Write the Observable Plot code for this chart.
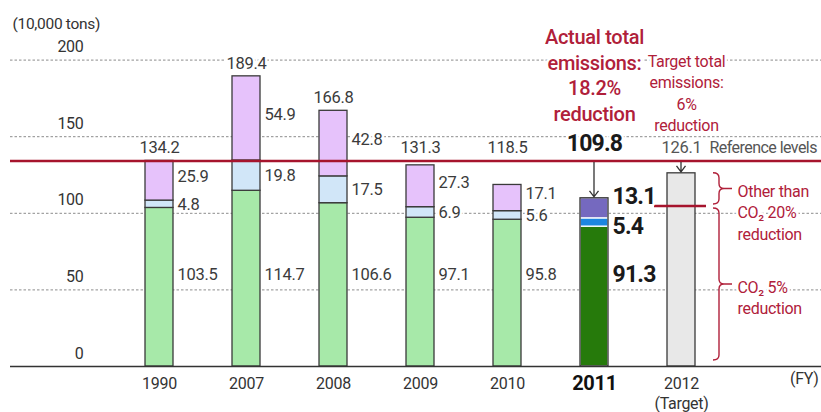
<!DOCTYPE html>
<html><head><meta charset="utf-8">
<script src="https://cdn.jsdelivr.net/npm/d3@7"></script>
<script src="https://cdn.jsdelivr.net/npm/@observablehq/plot@0.6"></script>
<style>
html,body{margin:0;padding:0;background:#fff}
#chart svg{display:block}
#chart svg text{letter-spacing:-0.3px}
#chart svg .tight text{letter-spacing:-0.8px}
#chart svg .mid text{letter-spacing:-0.55px}
</style></head><body><div id="chart"></div>
<script>
// ---- data ----
const years = ["1990","2007","2008","2009","2010","2011","2012"];
const actualYears = ["1990","2007","2008","2009","2010","2011"];
const seriesNames = ["CO₂", "Other gases (A)", "Other gases (B)"];
const co2 = [103.5, 114.7, 106.6, 97.1, 95.8, 91.3];
const otherA = [4.8, 19.8, 17.5, 6.9, 5.6, 5.4];
const otherB = [25.9, 54.9, 42.8, 27.3, 17.1, 13.1];
const totals = [134.2, 189.4, 166.8, 131.3, 118.5, 109.8];
const target2012 = 126.1;
const referenceLevel = 134.2;
const targetSplit = 104.4;
const yTicks = [0, 50, 100, 150, 200];

const lightColors = ["#a7e9a9", "#d1e6f8", "#e6c2fb"];
const darkColors = ["#267a0b", "#1d86df", "#7569bf"];
const RED = "#b0203a";
const REDLINE = "#a6142d";
const FONT = 'Roboto,"Liberation Sans","Noto Sans",sans-serif';

const rows = actualYears.flatMap((year, i) => [
  {year, series: 0, value: co2[i]},
  {year, series: 1, value: otherA[i]},
  {year, series: 2, value: otherB[i]}
]);
const labelRows = actualYears.map((year, i) => ({
  year, i,
  co2: co2[i], a: otherA[i], b: otherB[i], total: totals[i],
  aMid: co2[i] + otherA[i] / 2,
  bMid: co2[i] + otherA[i] + otherB[i] / 2
}));
const normal = labelRows.filter(d => d.year !== "2011");
const hi = labelRows.filter(d => d.year === "2011");
const fmt = v => v.toFixed(1);

function annotations(...args) {
  const s = args.find(a => a && typeof a.x === "function" && typeof a.y === "function");
  const g = d3.create("svg:g");
  if (!s) return g.node();
  const X = s.x, Y = s.y;
  let bw = typeof X.bandwidth === "function" ? X.bandwidth() : X.bandwidth;
  if (!(bw > 0)) bw = 0;
  const cx = k => X(k) + bw / 2;
  const arrow = (k, v) => {
    const x0 = cx(k), y0 = Y(referenceLevel) + 1.5, y1 = Y(v) - 1;
    g.append("path").attr("d", `M${x0},${y0}L${x0},${y1}M${x0-4.5},${y1-6}L${x0},${y1}L${x0+4.5},${y1-6}`)
      .attr("fill", "none").attr("stroke", "#333").attr("stroke-width", 1.3);
  };
  arrow("2011", totals[5]);
  arrow("2012", target2012);
  const c12 = cx("2012");
  g.append("line").attr("x1", c12 - 27).attr("x2", c12 + 25)
    .attr("y1", Y(targetSplit)).attr("y2", Y(targetSplit))
    .attr("stroke", REDLINE).attr("stroke-width", 2.5);
  const bx = c12 + 38;
  const brace = (T, B) => {
    const M = (T + B) / 2, r = 5;
    return `M${bx-6},${T}Q${bx},${T} ${bx},${T+r}L${bx},${M-r}Q${bx},${M} ${bx+r},${M}L${bx+13},${M}` +
           `M${bx+r},${M}Q${bx},${M} ${bx},${M+r}L${bx},${B-r}Q${bx},${B} ${bx-6},${B}`;
  };
  g.append("path").attr("d", brace(Y(target2012), Y(targetSplit) - 2))
    .attr("fill", "none").attr("stroke", RED).attr("stroke-width", 1.4);
  g.append("path").attr("d", brace(Y(targetSplit) + 2, Y(0) - 6))
    .attr("fill", "none").attr("stroke", RED).attr("stroke-width", 1.4);
  return g.node();
}

const halo = {stroke: "white", strokeWidth: 5};
const chart = Plot.plot({
  width: 821,
  height: 412,
  marginLeft: 10,
  marginRight: 0,
  marginTop: 59.6,
  marginBottom: 46,
  style: {fontFamily: FONT, fontSize: "15px", background: "white", overflow: "visible"},
  x: {type: "band", domain: years, range: [113.25, 725.75], paddingInner: 0.68, paddingOuter: 0.34, axis: null},
  y: {domain: [0, 200], axis: null},
  marks: [
    Plot.ruleY(yTicks.slice(1), {stroke: "#8c8c8c", strokeDasharray: "2.5,2", strokeWidth: 1}),
    Plot.barY(rows, {
      x: "year", y: "value",
      fill: d => (d.year === "2011" ? darkColors : lightColors)[d.series],
      stroke: d => d.year === "2011" ? "#ffffff" : "#3a3a3a",
      strokeWidth: 1.3
    }),
    Plot.barY([totals[5]], {x: () => "2011", y: d => d, fill: "none", stroke: "#333", strokeWidth: 1.3}),
    Plot.barY([target2012], {x: () => "2012", y: d => d, fill: "#e8e8e8", stroke: "#3a3a3a", strokeWidth: 1.3}),
    Plot.ruleY([0], {stroke: "#333", strokeWidth: 1.6}),
    Plot.ruleY([referenceLevel], {stroke: REDLINE, strokeWidth: 2.5}),
    annotations,
    Plot.text(yTicks, {y: d => d, frameAnchor: "left", dx: 73, dy: -13, textAnchor: "end", fill: "#333", fontSize: 16}),
    Plot.text(["(10,000 tons)"], {frameAnchor: "top-left", dx: 2, dy: -42, textAnchor: "start", fill: "#333", fontSize: 15.5}),
    Plot.text(normal, {x: "year", y: () => 60, text: d => fmt(d.co2), dx: 18, textAnchor: "start", fill: "#3b3b3b", fontSize: 16.5, ...halo}),
    Plot.text(normal, {x: "year", y: "aMid", text: d => fmt(d.a), dx: 18, textAnchor: "start", fill: "#3b3b3b", fontSize: 16.5, ...halo}),
    Plot.text(normal, {x: "year", y: "bMid", text: d => fmt(d.b), dx: 18, dy: -4, textAnchor: "start", fill: "#3b3b3b", fontSize: 16.5, ...halo}),
    Plot.text(normal, {x: "year", y: d => Math.max(d.total, referenceLevel), text: d => fmt(d.total), dy: -13, fill: "#3b3b3b", fontSize: 16.5, ...halo}),
    Plot.text(hi, {x: "year", y: () => 60, text: d => fmt(d.co2), dx: 18, textAnchor: "start", fill: "#1a1a1a", fontSize: 23, fontWeight: "bold", className: "tight", ...halo}),
    Plot.text(hi, {x: "year", y: "aMid", text: d => fmt(d.a), dx: 18, dy: 4, textAnchor: "start", fill: "#1a1a1a", fontSize: 23, fontWeight: "bold", className: "tight", ...halo}),
    Plot.text(hi, {x: "year", y: "bMid", text: d => fmt(d.b), dx: 18, dy: -12, textAnchor: "start", fill: "#1a1a1a", fontSize: 23, fontWeight: "bold", className: "tight", ...halo}),
    Plot.text(hi, {x: "year", y: () => referenceLevel, text: d => fmt(d.total), dy: -17, fill: "#1a1a1a", fontSize: 23, fontWeight: "bold", className: "tight", ...halo}),
    Plot.text([target2012], {x: () => "2012", y: () => referenceLevel, text: d => fmt(d), dy: -13, fill: "#555", fontSize: 16.5, ...halo}),
    Plot.text(["Reference levels"], {x: () => "2012", y: () => referenceLevel, dx: 28, dy: -13, textAnchor: "start", fill: "#555", fontSize: 16, className: "mid", ...halo}),
    Plot.text(["Actual total\nemissions:\n18.2%\nreduction"], {x: () => "2011", frameAnchor: "top", dy: -34, lineAnchor: "top", lineHeight: 1.28, fill: RED, fontSize: 20, fontWeight: 500, ...halo}),
    Plot.text(["Target total\nemissions:\n6%\nreduction"], {x: () => "2012", frameAnchor: "top", dx: 5, dy: -8, lineAnchor: "top", lineHeight: 1.33, fill: RED, fontSize: 16, ...halo}),
    Plot.text(["Other than\nCO₂ 20%\nreduction"], {x: () => "2012", y: () => targetSplit, dx: 56, dy: 5, textAnchor: "start", lineHeight: 1.33, fill: RED, fontSize: 16, ...halo}),
    Plot.text(["CO₂ 5%\nreduction"], {x: () => "2012", y: () => targetSplit / 2, dx: 56, dy: 10, textAnchor: "start", lineHeight: 1.33, fill: RED, fontSize: 16, ...halo}),
    Plot.text(years.filter(y => y !== "2011"), {x: d => d, y: () => 0, dy: 17, fill: "#333", fontSize: 16}),
    Plot.text(["2011"], {x: d => d, y: () => 0, dy: 17, fill: "#111", fontSize: 20, fontWeight: "bold"}),
    Plot.text(["(Target)"], {x: () => "2012", y: () => 0, dy: 37, fill: "#333", fontSize: 16}),
    Plot.text(["(FY)"], {frameAnchor: "bottom-right", dx: -3, dy: 17, textAnchor: "end", fill: "#333", fontSize: 16})
  ]
});
document.getElementById("chart").appendChild(chart);
</script>
</body></html>
